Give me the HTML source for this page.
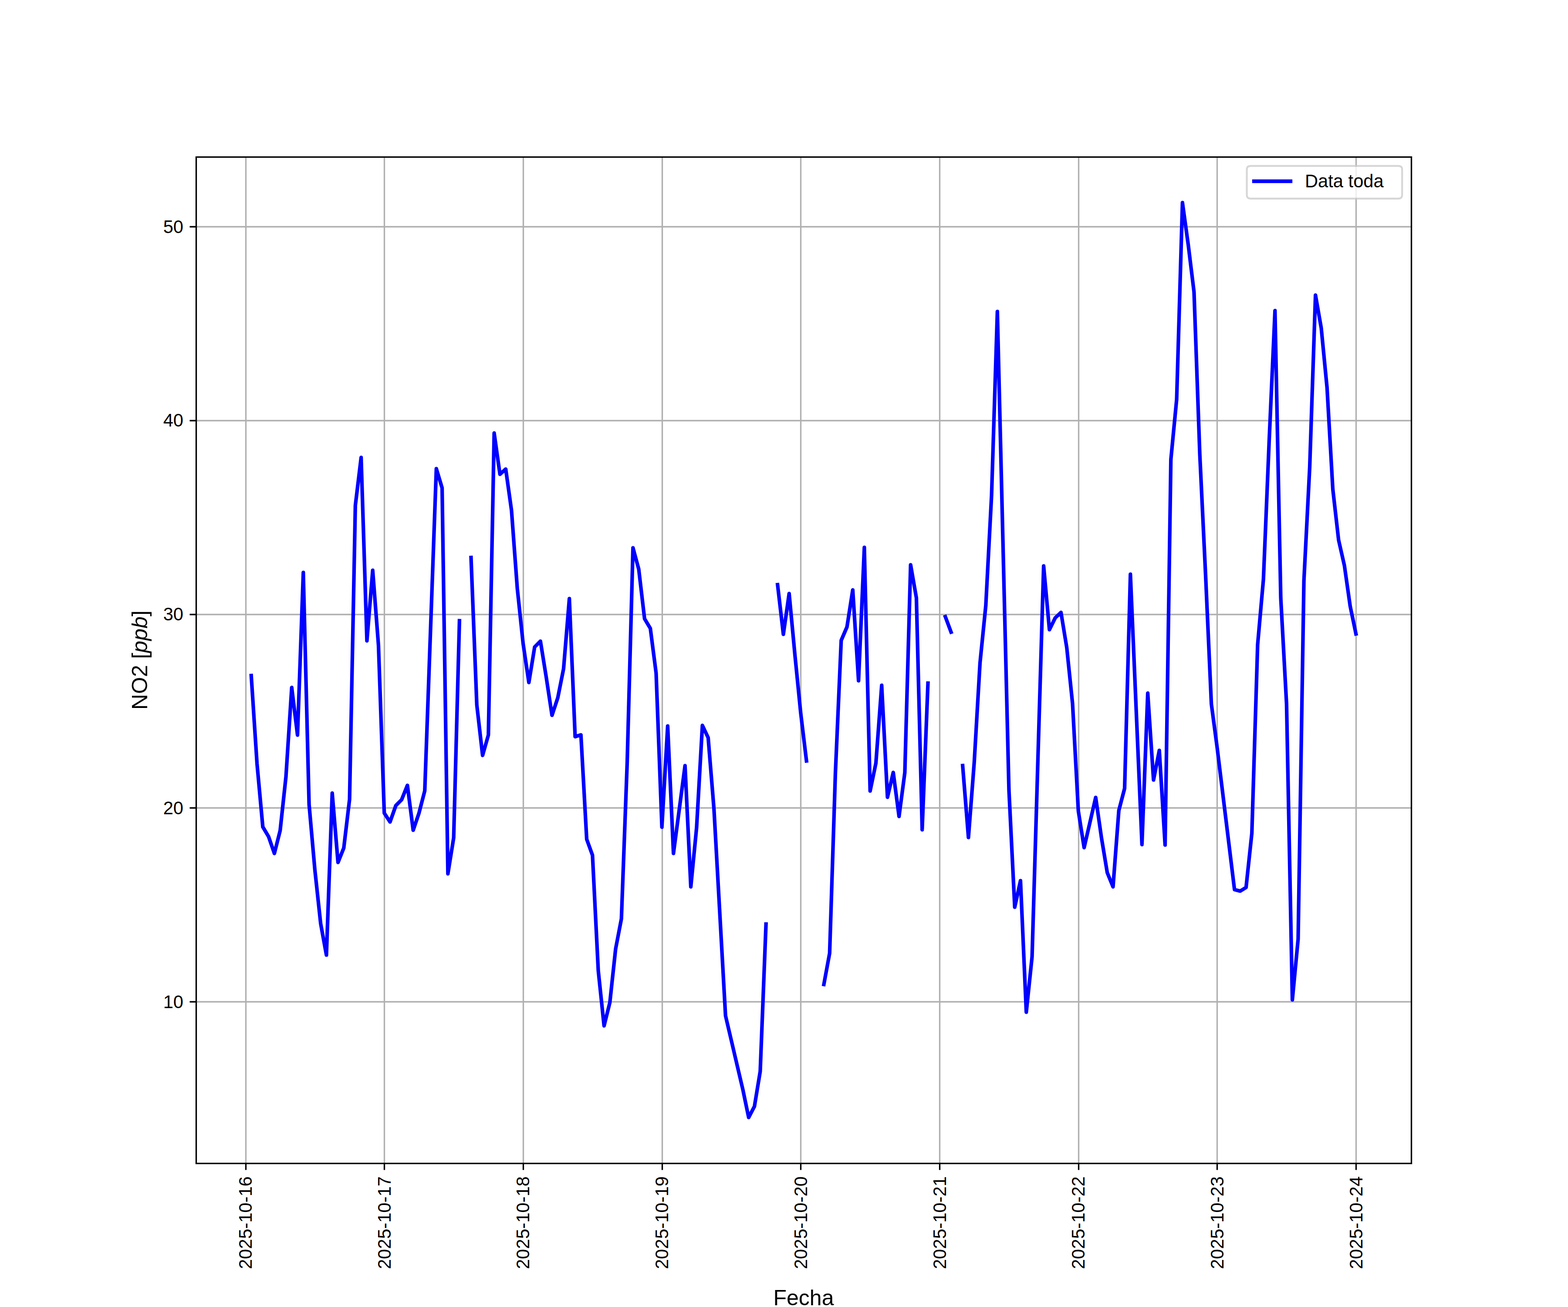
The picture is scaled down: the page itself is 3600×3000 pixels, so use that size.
<!DOCTYPE html>
<html lang="es"><head><meta charset="utf-8"><title>NO2 [ppb] - Fecha</title>
<style>
html,body{margin:0;padding:0;background:#fff;}
body{width:3600px;height:3000px;position:relative;overflow:hidden;font-family:"Liberation Sans",sans-serif;}
</style></head><body>
<svg width="3600" height="3000" viewBox="0 0 3600 3000" style="display:block;position:absolute;left:0;top:0" role="img" aria-label="NO2 [ppb] vs Fecha">
<defs><clipPath id="ax"><rect x="450" y="360" width="2790" height="2310"/></clipPath></defs>
<rect x="0" y="0" width="3600" height="3000" fill="#ffffff"/>
<path d="M564.5 2670 V360 M882.5 2670 V360 M1201.5 2670 V360 M1520.5 2670 V360 M1838.5 2670 V360 M2157.5 2670 V360 M2476.5 2670 V360 M2794.5 2670 V360 M3113.5 2670 V360 M450 2299.5 H3240 M450 1854.5 H3240 M450 1410.5 H3240 M450 965.5 H3240 M450 520.5 H3240" fill="none" stroke="#b0b0b0" stroke-width="3.3333" clip-path="url(#ax)"/>
<path d="M564.5 2670.5 v15 M882.5 2670.5 v15 M1201.5 2670.5 v15 M1520.5 2670.5 v15 M1838.5 2670.5 v15 M2157.5 2670.5 v15 M2476.5 2670.5 v15 M2794.5 2670.5 v15 M3113.5 2670.5 v15 M450.5 2299.5 h-15 M450.5 1854.5 h-15 M450.5 1410.5 h-15 M450.5 965.5 h-15 M450.5 520.5 h-15" fill="none" stroke="#000000" stroke-width="3.3333"/>
<path d="M576.82 1550.67 L590.10 1753.02 L603.38 1898.00 L616.66 1920.32 L629.94 1959.02 L643.22 1906.32 L656.49 1782.99 L669.77 1578.02 L683.05 1687.33 L696.33 1313.98 L709.61 1846.32 L722.89 1996.33 L736.17 2119.70 L749.45 2192.27 L762.73 1820.35 L776.01 1979.65 L789.29 1946.34 L802.57 1834.67 L815.85 1160.02 L829.13 1049.99 L842.41 1471.02 L855.69 1309.00 L868.96 1481.65 L882.24 1866.33 L895.52 1886.66 L908.80 1848.99 L922.08 1835.65 L935.36 1802.65 L948.64 1905.65 L961.92 1866.33 L975.20 1815.32 L1001.76 1075.65 L1015.04 1119.99 L1028.32 2005.67 L1041.60 1922.99 L1054.88 1424.68 M1081.44 1279.65 L1094.71 1618.00 L1107.99 1733.98 L1121.27 1687.02 L1134.55 994.00 L1147.83 1088.68 L1161.11 1076.68 L1174.39 1171.67 L1187.67 1350.67 L1200.95 1476.66 L1214.23 1566.68 L1227.51 1485.11 L1240.79 1471.68 L1254.07 1554.14 L1267.35 1641.88 L1280.63 1601.68 L1293.91 1535.01 L1307.18 1373.98 L1320.46 1691.02 L1333.74 1686.66 L1347.02 1926.33 L1360.30 1963.02 L1373.58 2227.99 L1386.86 2354.69 L1400.14 2301.32 L1413.42 2178.00 L1426.70 2108.67 L1439.98 1749.99 L1453.26 1257.33 L1466.54 1306.65 L1479.82 1420.01 L1493.10 1442.33 L1506.38 1545.02 L1519.65 1898.67 L1532.93 1666.34 L1546.21 1959.02 L1572.77 1757.33 L1586.05 2035.69 L1599.33 1899.69 L1612.61 1665.01 L1625.89 1693.34 L1639.17 1856.33 L1665.73 2331.34 L1705.57 2501.14 L1718.85 2565.00 L1732.13 2539.61 L1745.40 2459.02 L1758.68 2120.98 M1785.24 1342.00 L1798.52 1455.98 L1811.80 1362.33 L1825.08 1503.35 L1838.36 1636.68 L1851.64 1746.66 M1891.48 2259.65 L1904.76 2188.01 L1918.04 1773.34 L1931.32 1469.99 L1944.60 1439.00 L1957.87 1354.01 L1971.15 1562.67 L1984.43 1256.35 L1997.71 1815.68 L2010.99 1751.68 L2024.27 1572.99 L2037.55 1830.00 L2050.83 1772.99 L2064.11 1873.98 L2077.39 1773.34 L2090.67 1296.33 L2103.95 1372.33 L2117.23 1904.67 L2130.51 1568.01 M2170.35 1415.34 L2183.62 1451.00 M2210.18 1757.33 L2223.46 1922.33 L2236.74 1749.99 L2250.02 1521.67 L2263.30 1389.99 L2276.58 1136.67 L2289.86 714.98 L2316.42 1813.01 L2329.70 2082.34 L2342.98 2021.32 L2356.26 2323.34 L2369.54 2196.32 L2396.09 1299.00 L2409.37 1445.36 L2422.65 1418.32 L2435.93 1405.69 L2449.21 1486.67 L2462.49 1615.02 L2475.77 1861.35 L2489.05 1945.67 L2515.61 1830.31 L2528.89 1922.99 L2542.17 2003.00 L2555.45 2035.69 L2568.73 1860.33 L2582.01 1809.68 L2595.29 1317.99 L2621.84 1938.65 L2635.12 1591.00 L2648.40 1790.33 L2661.68 1722.33 L2674.96 1939.67 L2688.24 1054.66 L2701.52 916.66 L2714.80 465.00 L2728.08 561.68 L2741.36 670.02 L2754.64 1043.01 L2767.92 1319.68 L2781.20 1616.00 L2794.48 1716.02 L2834.31 2042.00 L2847.59 2045.34 L2860.87 2037.02 L2874.15 1912.67 L2887.43 1479.69 L2900.71 1329.68 L2913.99 1009.66 L2927.27 712.98 L2940.55 1373.00 L2953.83 1616.00 L2967.11 2295.10 L2980.39 2155.58 L2993.67 1333.02 L3006.95 1072.99 L3020.23 677.31 L3033.51 753.32 L3046.78 889.98 L3060.06 1123.02 L3073.34 1239.67 L3086.62 1298.02 L3099.90 1391.32 L3113.18 1455.01 L3113.18 1455.01" fill="none" stroke="#0000ff" stroke-width="8.3333" stroke-linejoin="round" stroke-linecap="square" clip-path="url(#ax)"/>
<rect x="450.5" y="360.5" width="2790" height="2310" fill="none" stroke="#000000" stroke-width="3.3333" stroke-linejoin="miter"/>
<g transform="scale(4.166667)"><path d="M 689.029688 109.390125 L 770.6 109.390125 Q 772.6 109.390125 772.6 107.390125 L 772.6 93.4 Q 772.6 91.4 770.6 91.4 L 689.029688 91.4 Q 687.029688 91.4 687.029688 93.4 L 687.029688 107.390125 Q 687.029688 109.390125 689.029688 109.390125 z" fill="#ffffff" stroke="#cccccc" stroke-width="1" stroke-linejoin="miter" opacity="0.8"/></g>
<path d="M2879 416 H2963" fill="none" stroke="#0000ff" stroke-width="8.3333" stroke-linecap="square"/>
<g style='font-family:"Liberation Sans",sans-serif' fill="#000000" stroke="none">
<text font-size="41.67" text-anchor="end" transform="translate(563.5 2700) rotate(-90)" dy="0.35em">2025-10-16</text>
<text font-size="41.67" text-anchor="end" transform="translate(882.2 2700) rotate(-90)" dy="0.35em">2025-10-17</text>
<text font-size="41.67" text-anchor="end" transform="translate(1200.9 2700) rotate(-90)" dy="0.35em">2025-10-18</text>
<text font-size="41.67" text-anchor="end" transform="translate(1519.7 2700) rotate(-90)" dy="0.35em">2025-10-19</text>
<text font-size="41.67" text-anchor="end" transform="translate(1838.4 2700) rotate(-90)" dy="0.35em">2025-10-20</text>
<text font-size="41.67" text-anchor="end" transform="translate(2157.1 2700) rotate(-90)" dy="0.35em">2025-10-21</text>
<text font-size="41.67" text-anchor="end" transform="translate(2475.8 2700) rotate(-90)" dy="0.35em">2025-10-22</text>
<text font-size="41.67" text-anchor="end" transform="translate(2794.5 2700) rotate(-90)" dy="0.35em">2025-10-23</text>
<text font-size="41.67" text-anchor="end" transform="translate(3113.2 2700) rotate(-90)" dy="0.35em">2025-10-24</text>
<text font-size="41.67" text-anchor="end" x="421" y="2299.1" dy="0.35em">10</text>
<text font-size="41.67" text-anchor="end" x="421" y="1854.3" dy="0.35em">20</text>
<text font-size="41.67" text-anchor="end" x="421" y="1409.6" dy="0.35em">30</text>
<text font-size="41.67" text-anchor="end" x="421" y="964.9" dy="0.35em">40</text>
<text font-size="41.67" text-anchor="end" x="421" y="520.1" dy="0.35em">50</text>
<text font-size="50" text-anchor="middle" x="1845" y="2996">Fecha</text>
<text font-size="50" text-anchor="middle" transform="translate(338 1515) rotate(-90)">NO2 [<tspan font-style="italic">ppb</tspan>]</text>
<text font-size="41.67" x="2996" y="430">Data toda</text>
</g>
</svg>
</body></html>
